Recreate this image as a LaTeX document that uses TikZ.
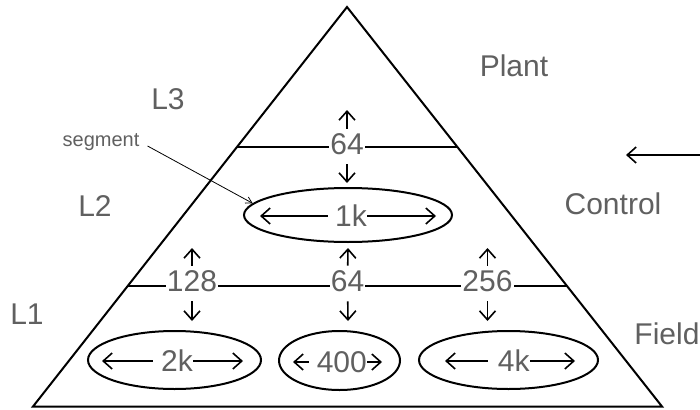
\documentclass[tikz,border=0pt]{standalone}
\usepackage{fontspec}
\setmainfont{Liberation Sans}
\usetikzlibrary{arrows.meta,shapes.geometric,calc}
\definecolor{labelgray}{RGB}{96,96,96}
\begin{document}
\begin{tikzpicture}[x=1pt,y=-1pt,
  edge/.style={line width=2pt, line join=miter},
  arr/.style={line width=1.6pt, -{Straight Barb[length=9pt,width=16pt]}},
  thinarr/.style={line width=0.8pt, -{Straight Barb[length=6pt,width=7pt]}},
  big/.style={text=labelgray, font=\fontsize{30}{30}\selectfont, inner sep=0pt},
  num/.style={big, fill=white, inner xsep=1pt, inner ysep=5pt},
  oval/.style={draw, ellipse, line width=2pt, inner sep=0pt},
  gap/.style={shorten <=8pt},
]
\useasboundingbox (0,0) rectangle (700,409);

% pyramid outline
\coordinate (apex) at (347,7);
\coordinate (bl) at (33,406.5);
\coordinate (br) at (662,406.5);
\draw[edge] (apex) -- (bl) -- (br) -- cycle;

% level separators
\coordinate (s1l) at ($(apex)!0.3504!(bl)$);
\coordinate (s1r) at ($(apex)!0.3504!(br)$);
\coordinate (s2l) at ($(apex)!0.6984!(bl)$);
\coordinate (s2r) at ($(apex)!0.6984!(br)$);
\draw[edge] (s1l) -- (s1r);
\draw[edge] (s2l) -- (s2r);

% level names
\node[big] (lthree) at (168,99) {L3};
\node[big] (ltwo) at (95,206) {L2};
\node[big] (lone) at (27,314) {L1};
\node[big] (plant) at (514,66) {Plant};
\node[big] (control) at (613,204) {Control};
\node[big] (field) at (667,334) {Field};

% segments
\node[oval, minimum width=208pt, minimum height=54pt] (e1k) at (348,215) {};
\node[oval, minimum width=173pt, minimum height=58pt] (e2k) at (174.5,360) {};
\node[oval, minimum width=121pt, minimum height=59pt] (e400) at (339.5,360.5) {};
\node[oval, minimum width=179pt, minimum height=58pt] (e4k) at (508.5,360) {};

% segment sizes with spanning arrows
\node[big] (k1) at (351,216) {1k};
\coordinate (k1l) at (260,216);
\coordinate (k1r) at (436,216);
\draw[arr, shorten <=7pt] (k1) -- (k1l);
\draw[arr] (k1) -- (k1r);

\node[big] (k2) at (177,361) {2k};
\coordinate (k2l) at (102,361);
\coordinate (k2r) at (243,361);
\draw[arr, gap] (k2) -- (k2l);
\draw[arr] (k2) -- (k2r);

\node[big] (h4) at (341.8,362) {400};
\coordinate (h4l) at (293,362);
\coordinate (h4r) at (382,362);
\draw[arr, gap] (h4) -- (h4l);
\draw[arr] (h4) -- (h4r);

\node[big] (k4) at (513.7,361) {4k};
\coordinate (k4l) at (445,361);
\coordinate (k4r) at (575,361);
\draw[arr, shorten <=10pt] (k4) -- (k4l);
\draw[arr] (k4) -- (k4r);

% link counts on the separators
\node[num] (n64t) at (347,144.5) {64};
\node[num] (n128) at (192,281.5) {128};
\node[num] (n64m) at (347.5,281.5) {64};
\node[num] (n256) at (487.5,281.5) {256};

\coordinate (u64t) at (347,110);
\coordinate (d64t) at (347,183);
\draw[arr] (n64t) -- (u64t);
\draw[arr, shorten <=4pt] (n64t) -- (d64t);

\coordinate (u128) at (192,248);
\coordinate (d128) at (192,321);
\draw[arr] (n128) -- (u128);
\draw[arr, shorten <=4pt] (n128) -- (d128);

\coordinate (u64m) at (348,248);
\coordinate (d64m) at (348,321);
\draw[arr] (n64m) -- (u64m);
\draw[arr, shorten <=4pt] (n64m) -- (d64m);

\coordinate (u256) at (487.5,248);
\coordinate (d256) at (487.5,321);
\draw[arr] (n256) -- (u256);
\draw[arr, shorten <=4pt] (n256) -- (d256);

% incoming arrow on the right
\coordinate (insrc) at (700,155);
\coordinate (indst) at (626,155);
\draw[arr] (insrc) -- (indst);

% callout
\node[text=labelgray, font=\fontsize{20}{20}\selectfont, anchor=base, inner sep=0pt] (seglbl) at (101,146) {segment};
\draw[thinarr] ([xshift=8pt]seglbl.base east) -- (e1k.173);
\end{tikzpicture}
\end{document}
